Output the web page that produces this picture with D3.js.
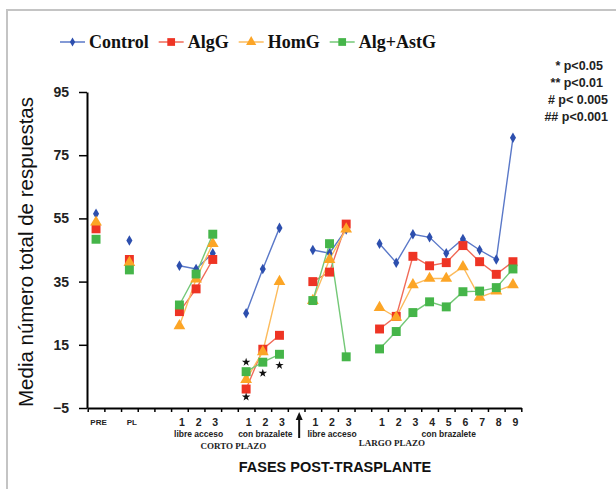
<!DOCTYPE html>
<html>
<head>
<meta charset="utf-8">
<script src="https://cdn.jsdelivr.net/npm/d3@7"></script>
<style>
  body { margin: 0; background: #fff; }
  svg { display: block; }
</style>
</head>
<body>
<div id="chart-area"></div>
<script>

// slot labels along the x axis (empty = gap)
var categories = ["PRE","","PL","","","1","2","3","","1","2","3","","1","2","3","","1","2","3","4","5","6","7","8","9"];
// slots that carry data, and which of them are joined by lines
var dataSlots = [0,2,5,6,7,9,10,11,13,14,15,17,18,19,20,21,22,23,24,25];
var segments = [[0],[2],[5,6,7],[9,10,11],[13,14,15],[17,18,19,20,21,22,23,24,25]];

var control = [56.5, 48, 40, 39, 44, 25, 39, 52, 45, 44, 51.5, 47, 41, 50, 49, 44, 48.5, 45, 42, 80.5];
var algG    = [51.7, 42, 25.5, 32.7, 42, 1, 13.6, 18, 35, 38, 53.2, 20, 24, 43, 40, 41, 46.4, 41.3, 37.3, 41.3];
var homG    = [53.8, 41, 21, 35.8, 47, 4, 12.8, 35, 29, 42, 51.6, 26.8, 23.7, 34, 36, 36, 39.7, 30, 32, 34];
var algAstG = [48.4, 38.7, 27.6, 37.4, 50, 6.5, 9.5, 12, 29, 47, 11.2, 13.7, 19.2, 25.2, 28.6, 27, 31.8, 32, 33.1, 39];

var seriesNames = ["Control","AlgG","HomG","Alg+AstG"];
var yTicks = [-5, 15, 35, 55, 75, 95];

// significance stars: slot and value
var starSlots  = [9, 9, 10, 11];
var starValues = [9.5, -1.5, 6, 8.5];

var phaseLabels = ["libre acceso","con brazalete","libre acceso","con brazalete"];
var phaseFrom = [5, 9, 13, 17];
var phaseTo   = [7, 11, 15, 25];
var termLabels = ["CORTO PLAZO","LARGO PLAZO"];
var termFrom = [5, 13];
var termTo   = [11, 22];
var pLegend = ["* p<0.05","** p<0.01","# p< 0.005","## p<0.001"];

var series = [
	{name: seriesNames[0], values: control, color: "#2d4fae", line: "#5a78c8", shape: d3.symbolDiamond, size: 32},
	{name: seriesNames[1], values: algG,    color: "#ee3424", line: "#f06a58", shape: d3.symbolSquare, size: 80},
	{name: seriesNames[2], values: homG,    color: "#fca526", line: "#fcbb5c", shape: d3.symbolTriangle, size: 60},
	{name: seriesNames[3], values: algAstG, color: "#45b549", line: "#74c877", shape: d3.symbolSquare, size: 80}
];

var W = 616, H = 489;

var svg = d3.select("#chart-area")
	.append("svg")
		.attr("width", W)
		.attr("height", H);

svg.append("rect").attr("width", W).attr("height", H).attr("fill", "#fff");

// frame
svg.append("path")
	.attr("d", "M7,489 V10 H616")
	.attr("fill", "none")
	.attr("stroke", "#c4c4c4")
	.attr("stroke-width", 2);

var x = d3.scaleBand()
	.domain(d3.range(categories.length))
	.range([87.7, 521.3])
	.padding(0);

var bw = x.bandwidth();
function cx(i){ return x(i) + bw / 2; }

var y = d3.scaleLinear()
	.domain([-5, 95])
	.range([408, 92]);

// x axis: ticks at the slot boundaries
var xb = d3.scaleLinear().domain([0, categories.length]).range(x.range());
var gx = svg.append("g")
	.attr("transform", "translate(0," + y(-5) + ")")
	.call(d3.axisBottom(xb).ticks(categories.length).tickFormat("").tickSize(4).tickSizeOuter(0));
gx.select(".domain").attr("stroke", "#000").attr("stroke-width", 2);
gx.selectAll(".tick line").attr("stroke", "#000").attr("stroke-width", 1.5);

// y axis
var gy = svg.append("g")
	.attr("transform", "translate(87,0)")
	.call(d3.axisLeft(y).tickValues(yTicks).tickSize(8).tickPadding(10).tickSizeOuter(0));
gy.select(".domain").attr("stroke", "#000").attr("stroke-width", 2);
gy.selectAll(".tick line").attr("stroke", "#000").attr("stroke-width", 1.5);
gy.selectAll(".tick text")
	.attr("font-family", "Liberation Sans, Arial, sans-serif")
	.attr("font-size", "14px")
	.attr("font-weight", "bold")
	.attr("fill", "#222");

// y label
svg.append("text")
	.attr("transform", "translate(33,252) rotate(-90)")
	.attr("text-anchor", "middle")
	.attr("font-family", "Liberation Sans, Arial, sans-serif")
	.attr("font-size", "20.5px")
	.attr("fill", "#111")
	.text("Media número total de respuestas");

// category labels
svg.append("g").selectAll("text")
	.data(categories.map(function(c, i){ return {c: c, i: i}; }).filter(function(d){ return d.c !== ""; }))
	.enter().append("text")
		.attr("x", function(d){ return cx(d.i) + 2.5; })
		.attr("y", function(d){ return d.c.length > 1 ? 425 : 426; })
		.attr("text-anchor", "middle")
		.attr("font-family", "Liberation Sans, Arial, sans-serif")
		.attr("font-weight", "bold")
		.attr("font-size", function(d){ return d.c.length > 1 ? "8px" : "10.5px"; })
		.attr("fill", "#222")
		.text(function(d){ return d.c; });

// phase labels
svg.append("g").selectAll("text")
	.data(phaseLabels)
	.enter().append("text")
		.attr("x", function(d, i){ return (cx(phaseFrom[i]) + cx(phaseTo[i])) / 2 + 2.5; })
		.attr("y", 437)
		.attr("text-anchor", "middle")
		.attr("font-family", "Liberation Sans, Arial, sans-serif")
		.attr("font-weight", "bold")
		.attr("font-size", "8.5px")
		.attr("fill", "#222")
		.text(function(d){ return d; });

svg.append("g").selectAll("text")
	.data(termLabels)
	.enter().append("text")
		.attr("x", function(d, i){ return (cx(termFrom[i]) + cx(termTo[i])) / 2 + 4; })
		.attr("y", function(d, i){ return i === 0 ? 449 : 446; })
		.attr("text-anchor", "middle")
		.attr("font-family", "Liberation Serif, Times New Roman, serif")
		.attr("font-weight", "bold")
		.attr("font-size", "9px")
		.attr("fill", "#222")
		.text(function(d){ return d; });

// arrow between short and long term
var ax = cx(12) + 3;
svg.append("line")
	.attr("x1", ax).attr("x2", ax)
	.attr("y1", 438).attr("y2", 418)
	.attr("stroke", "#111")
	.attr("stroke-width", 2);
svg.append("path")
	.attr("d", "M" + (ax - 3.5) + ",420 L" + ax + ",412 L" + (ax + 3.5) + ",420 Z")
	.attr("fill", "#111");

svg.append("text")
	.attr("x", 335)
	.attr("y", 472)
	.attr("text-anchor", "middle")
	.attr("font-family", "Liberation Sans, Arial, sans-serif")
	.attr("font-weight", "bold")
	.attr("font-size", "14.5px")
	.attr("fill", "#111")
	.text("FASES POST-TRASPLANTE");

// lines
var line = d3.line()
	.x(function(d){ return cx(d.slot); })
	.y(function(d){ return y(d.value); });

series.forEach(function(s){
	var pts = dataSlots.map(function(slot, k){ return {slot: slot, value: s.values[k]}; });
	segments.forEach(function(seg){
		if (seg.length < 2) return;
		var segPts = pts.filter(function(p){ return seg.indexOf(p.slot) >= 0; });
		svg.append("path")
			.datum(segPts)
			.attr("d", line)
			.attr("fill", "none")
			.attr("stroke", s.line)
			.attr("stroke-width", 1.4);
	});
});

// markers
series.forEach(function(s){
	var pts = dataSlots.map(function(slot, k){ return {slot: slot, value: s.values[k]}; });
	svg.append("g").selectAll("path")
		.data(pts)
		.enter().append("path")
			.attr("transform", function(d){ return "translate(" + cx(d.slot) + "," + y(d.value) + ")"; })
			.attr("d", d3.symbol().type(s.shape).size(s.size))
			.attr("fill", s.color);
});

// significance stars
svg.append("g").selectAll("path")
	.data(starSlots)
	.enter().append("path")
		.attr("transform", function(d, i){ return "translate(" + cx(d) + "," + y(starValues[i]) + ")"; })
		.attr("d", d3.symbol().type(d3.symbolStar).size(22))
		.attr("fill", "#111");

// legend
var legend = svg.append("g");
var lx = 60;
series.forEach(function(s){
	var it = legend.append("g").attr("transform", "translate(" + lx + ",42)");
	it.append("line")
		.attr("x1", 0).attr("x2", 25)
		.attr("stroke", s.line)
		.attr("stroke-width", 1.5);
	it.append("path")
		.attr("transform", "translate(12.5,0)")
		.attr("d", d3.symbol().type(s.shape).size(s.size * 0.75))
		.attr("fill", s.color);
	var t = it.append("text")
		.attr("x", 29)
		.attr("y", 6)
		.attr("font-family", "Liberation Serif, Times New Roman, serif")
		.attr("font-weight", "bold")
		.attr("font-size", "18px")
		.attr("fill", "#111")
		.text(s.name);
	lx += 29 + t.node().getComputedTextLength() + 10;
});

// p-value key
svg.append("g").selectAll("text")
	.data(pLegend)
	.enter().append("text")
		.attr("x", function(d, i){ return i < 2 ? 603 : 608; })
		.attr("y", function(d, i){ return 70 + i * 17; })
		.attr("text-anchor", "end")
		.attr("font-family", "Liberation Sans, Arial, sans-serif")
		.attr("font-weight", "bold")
		.attr("font-size", "12.5px")
		.attr("fill", "#222")
		.text(function(d){ return d; });

</script>
</body>
</html>
